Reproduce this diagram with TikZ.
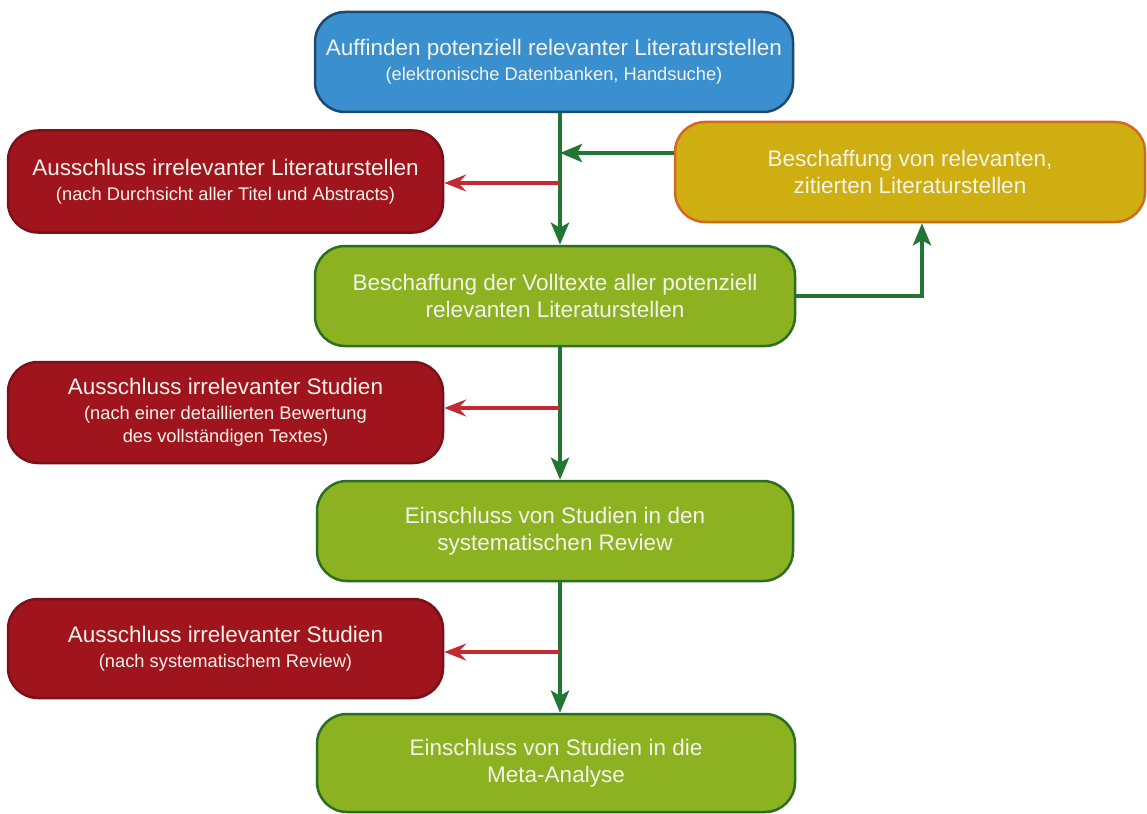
\documentclass[tikz,border=0pt]{standalone}
\usepackage{fontspec}
\setmainfont{Liberation Sans}
\usetikzlibrary{arrows.meta}
\definecolor{bluefill}{HTML}{3A8FCF}
\definecolor{blueline}{HTML}{1D4A72}
\definecolor{redfill}{HTML}{A0141E}
\definecolor{redline}{HTML}{7A1018}
\definecolor{yelfill}{HTML}{CFAE12}
\definecolor{yelline}{HTML}{D2691E}
\definecolor{grnfill}{HTML}{8CB221}
\definecolor{grnline}{HTML}{2A6E22}
\definecolor{arrgrn}{HTML}{237533}
\definecolor{arrred}{HTML}{C42A30}
\definecolor{txt}{HTML}{F4F4EA}
\newcommand{\mainf}{\fontsize{22.5}{27}\selectfont}
\newcommand{\subf}{\fontsize{18.3}{22}\selectfont}
\begin{document}
\begin{tikzpicture}[x=1pt,y=-1pt,
  box/.style={rectangle, rounded corners=30pt, line width=2.5pt, text=txt, align=center, inner sep=0pt, font=\mainf},
  bluebox/.style={box, fill=bluefill, draw=blueline},
  redbox/.style={box, fill=redfill, draw=redline},
  yelbox/.style={box, fill=yelfill, draw=yelline},
  grnbox/.style={box, fill=grnfill, draw=grnline},
  garrow/.style={draw=arrgrn, line width=4.5pt, -{Stealth[length=22pt,width=18pt,inset=5pt]}},
  rarrow/.style={draw=arrred, line width=3.5pt, -{Stealth[length=22pt,width=17pt,inset=8pt]}}]
\useasboundingbox (0,0) rectangle (1147,813);

\node[bluebox, minimum width=478pt, minimum height=100pt] (blue) at (554,62)
  {Auffinden potenziell relevanter Literaturstellen\\[-2pt]{\subf (elektronische Datenbanken, Handsuche)}};
\node[redbox, minimum width=435pt, minimum height=102pt] (red1) at (225.5,181.5)
  {Ausschluss irrelevanter Literaturstellen\\[-2pt]{\subf (nach Durchsicht aller Titel und Abstracts)}};
\node[yelbox, minimum width=470pt, minimum height=100pt] (yel) at (910,172)
  {Beschaffung von relevanten,\\zitierten Literaturstellen};
\node[grnbox, minimum width=480pt, minimum height=100pt] (g1) at (555,296)
  {Beschaffung der Volltexte aller potenziell\\relevanten Literaturstellen};
\node[redbox, minimum width=435pt, minimum height=101pt] (red2) at (225.5,412.5)
  {Ausschluss irrelevanter Studien\\[-2pt]{\subf (nach einer detaillierten Bewertung}\\[-4pt]{\subf des vollständigen Textes)}};
\node[grnbox, minimum width=476pt, minimum height=100pt] (g2) at (555,531)
  {Einschluss von Studien in den\\systematischen Review};
\node[redbox, minimum width=435pt, minimum height=99pt] (red3) at (225.5,648.5)
  {Ausschluss irrelevanter Studien\\[-2pt]{\subf (nach systematischem Review)}};
\node[grnbox, minimum width=478pt, minimum height=98pt] (g3) at (556,763)
  {Einschluss von Studien in die\\Meta-Analyse};

\coordinate (vx) at (560,0);
\coordinate (yb) at (922,0);
\coordinate (j1) at (560,153);
\coordinate (r1) at (560,183);
\coordinate (r2) at (560,408);
\coordinate (r3) at (560,652);

\draw[garrow] (blue.south -| vx) -- (g1.north -| vx);
\draw[garrow] (yel.west |- j1) -- (j1);
\draw[rarrow] (r1) -- (red1.east |- r1);
\draw[garrow] (g1.east) -| (yel.south -| yb);
\draw[garrow] (g1.south -| vx) -- (g2.north -| vx);
\draw[rarrow] (r2) -- (red2.east |- r2);
\draw[garrow] (g2.south -| vx) -- (g3.north -| vx);
\draw[rarrow] (r3) -- (red3.east |- r3);
\end{tikzpicture}
\end{document}
